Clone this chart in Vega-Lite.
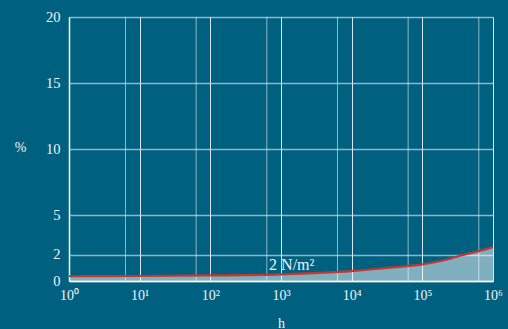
{
  "$schema": "https://vega.github.io/schema/vega-lite/v6.json",
  "width": 424,
  "height": 264,
  "autosize": {"type": "none"},
  "padding": {"left": 69, "top": 17, "right": 15, "bottom": 48},
  "background": "#006080",
  "config": {"view": {"stroke": null}, "font": "Liberation Serif"},
  "datasets": {
    "curve": [
      {"h": 1, "p": 0.36},
      {"h": 10, "p": 0.38},
      {"h": 100, "p": 0.42},
      {"h": 1000, "p": 0.5},
      {"h": 3000, "p": 0.6},
      {"h": 10000, "p": 0.75},
      {"h": 30000, "p": 0.98},
      {"h": 100000, "p": 1.26},
      {"h": 200000, "p": 1.55},
      {"h": 350000, "p": 1.93},
      {"h": 630000, "p": 2.26},
      {"h": 1000000, "p": 2.57}
    ],
    "minor": [
      {"h": 6.3}, {"h": 63}, {"h": 630}, {"h": 6300}, {"h": 63000}, {"h": 630000}
    ],
    "label": [
      {"h": 679, "p": 0.83, "text": "2 N/m²"}
    ]
  },
  "layer": [
    {
      "data": {"name": "minor"},
      "mark": {"type": "rule", "color": "#ffffff", "opacity": 0.55, "strokeWidth": 1},
      "encoding": {
        "x": {"field": "h", "type": "quantitative", "scale": {"type": "log", "domain": [1, 1000000]}}
      }
    },
    {
      "data": {"name": "curve"},
      "mark": {"type": "area", "color": "#ffffff", "opacity": 0.5, "interpolate": "monotone"},
      "encoding": {
        "x": {
          "field": "h", "type": "quantitative",
          "scale": {"type": "log", "domain": [1, 1000000]},
          "axis": {
            "values": [1, 10, 100, 1000, 10000, 100000, 1000000],
            "labelExpr": "'10' + substring('⁰¹²³⁴⁵⁶', round(log(datum.value)/LN10), round(log(datum.value)/LN10)+1)",
            "grid": true, "gridColor": "#ffffff", "gridOpacity": 0.85, "gridWidth": 1,
            "domain": true, "domainColor": "#ffffff", "domainWidth": 1.5,
            "ticks": false,
            "labelFont": "Liberation Serif", "labelFontSize": 14, "labelColor": "#f0f4f6",
            "labelPadding": 7, "labelFlush": false,
            "title": "h", "titleFont": "Liberation Serif", "titleFontSize": 14, "titleFontWeight": "normal",
            "titleColor": "#f0f4f6", "titleY": 46, "titleBaseline": "alphabetic"
          }
        },
        "y": {
          "field": "p", "type": "quantitative",
          "scale": {"domain": [0, 20]},
          "axis": {
            "values": [0, 2, 5, 10, 15, 20],
            "grid": true, "gridColor": "#ffffff", "gridOpacity": 0.55, "gridWidth": 1.5,
            "domain": true, "domainColor": "#ffffff", "domainWidth": 1.5,
            "ticks": false,
            "labelFont": "Liberation Serif", "labelFontSize": 14.5, "labelColor": "#f0f4f6",
            "labelPadding": 9,
            "title": "%", "titleFont": "Liberation Serif", "titleFontSize": 14, "titleFontWeight": "normal",
            "titleColor": "#f0f4f6", "titleAngle": 0, "titleX": -49, "titleY": 130,
            "titleAlign": "center", "titleBaseline": "middle"
          }
        }
      }
    },
    {
      "data": {"name": "curve"},
      "mark": {"type": "line", "color": "#c8372d", "strokeWidth": 2.2, "interpolate": "monotone"},
      "encoding": {
        "x": {"field": "h", "type": "quantitative"},
        "y": {"field": "p", "type": "quantitative"}
      }
    },
    {
      "data": {"name": "label"},
      "mark": {"type": "text", "align": "left", "baseline": "alphabetic", "color": "#f0f4f6", "fontSize": 16, "font": "Liberation Serif"},
      "encoding": {
        "x": {"field": "h", "type": "quantitative"},
        "y": {"field": "p", "type": "quantitative"},
        "text": {"field": "text"}
      }
    }
  ]
}
